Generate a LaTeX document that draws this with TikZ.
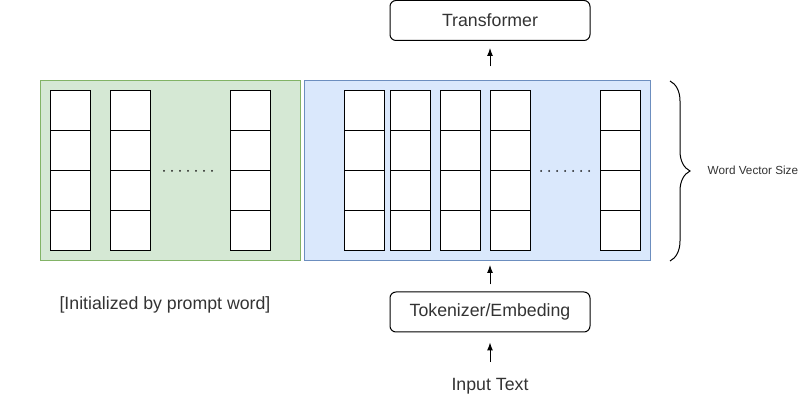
\documentclass[tikz,border=0pt]{standalone}
\usepackage{xcolor}
\usepackage{fontspec}
\setmainfont{Liberation Sans}
\usepackage{tikz}
\usetikzlibrary{arrows.meta}
\usetikzlibrary{positioning}
\usetikzlibrary{decorations.pathreplacing}
\definecolor{gfill}{HTML}{D5E8D4}
\definecolor{gline}{HTML}{82B366}
\definecolor{bfill}{HTML}{DAE8FC}
\definecolor{bline}{HTML}{6C8EBF}
\tikzset{>=latex}
\tikzstyle{cell} = [rectangle, draw=black, fill=white, line width=0.75pt, minimum size=30pt, inner sep=0pt]
\tikzstyle{box} = [rectangle, rounded corners=4.5pt, draw=black, line width=0.75pt, minimum width=150pt, minimum height=30pt]
\tikzstyle{txt} = [text=black!80, font=\fontsize{13.3}{16}\selectfont]
\tikzstyle{up} = [-{Latex[length=6pt, width=4.5pt]}, line width=0.75pt]

\begin{document}
\begin{tikzpicture}[x=0.75pt, y=-0.75pt]
\useasboundingbox (0,0) rectangle (811,402);
\node [rectangle, draw=gline, fill=gfill, line width=0.75pt, minimum width=195pt, minimum height=135pt] (G) at (170, 171) {};
\node [rectangle, draw=bline, fill=bfill, line width=0.75pt, minimum width=259.5pt, minimum height=135pt] (B) at (477, 171) {};
\foreach \x in {70, 130, 250, 364, 410, 460, 510, 620}
  \foreach \y [count=\k] in {111, 151, 191, 231}
    \node [cell] (c\x-\k) at (\x, \y) {};
\foreach \d in {0,...,6} {
  \fill [black!90] (164 + 8*\d, 171) circle (0.75pt);
  \fill [black!90] (541 + 8*\d, 171) circle (0.75pt);
}
\node [box, txt] (T) at (490, 20.5) {Transformer};
\node [box, txt] (E) at (490, 312) {Tokenizer/Embeding};
\node [txt] (I) at (490, 386) {Input Text};
\node [txt] (P) at (165, 305) {[Initialized by prompt word]};
\coordinate (bt) at (670, 81);
\coordinate (bb) at (670, 261);
\draw [decorate, decoration={brace, amplitude=15pt}, line width=0.75pt] (bt) -- (bb);
\node [txt, font=\fontsize{8.8}{10}\selectfont, anchor=west] (W) at (703, 170) {Word Vector Size};
\draw [up, shorten <=10.5pt, shorten >=5.25pt] (B.north -| T.south) -- (T.south);
\draw [up, shorten <=5.25pt, shorten >=2.6pt] (E.north) -- (E.north |- B.south);
\draw [up, shorten <=8.5pt, shorten >=7.5pt] (I.north) -- (E.south);
\end{tikzpicture}
\end{document}
